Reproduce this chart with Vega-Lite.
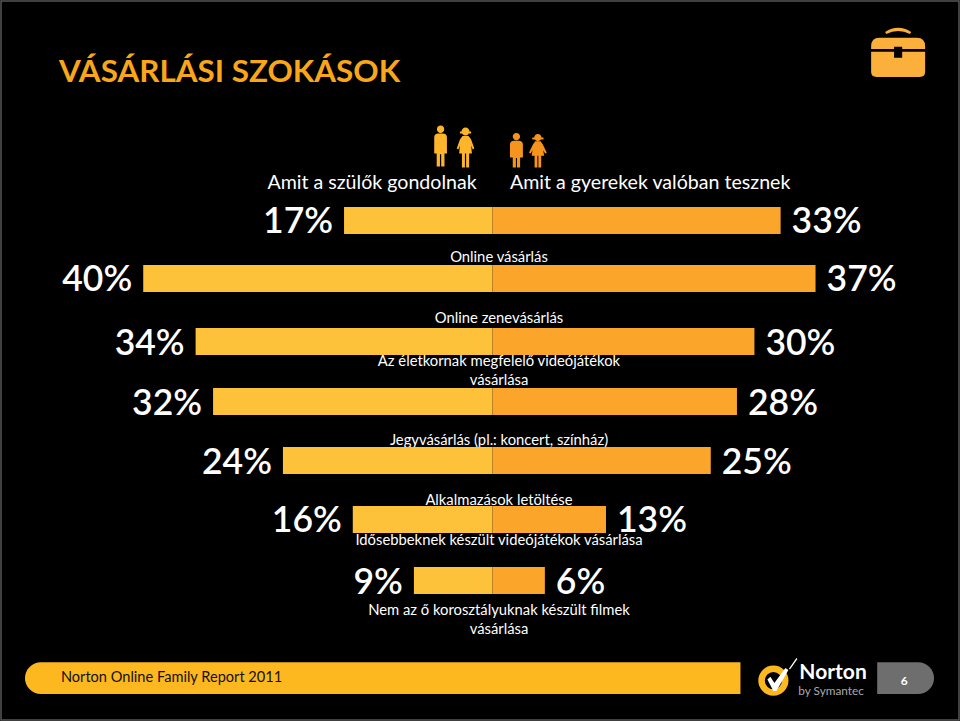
{
"$schema":"https://vega.github.io/schema/vega-lite/v6.json",
"width":960,"height":721,"padding":0,
"autosize":{"type":"fit","contains":"padding"},
"background":"#000000",
"config":{"view":{"stroke":null},"axis":{"disable":true},"legend":{"disable":true},"text":{"font":"Lato"}},
"datasets":{"bars":[
{"category":"Online vásárlás","rank":0,"group":"szülők","value":-17,"pct":"17%"},
{"category":"Online vásárlás","rank":0,"group":"gyerekek","value":33,"pct":"33%"},
{"category":"Online zenevásárlás","rank":1,"group":"szülők","value":-40,"pct":"40%"},
{"category":"Online zenevásárlás","rank":1,"group":"gyerekek","value":37,"pct":"37%"},
{"category":"Az életkornak megfelelő videójátékok\nvásárlása","rank":2,"group":"szülők","value":-34,"pct":"34%"},
{"category":"Az életkornak megfelelő videójátékok\nvásárlása","rank":2,"group":"gyerekek","value":30,"pct":"30%"},
{"category":"Jegyvásárlás (pl.: koncert, színház)","rank":3,"group":"szülők","value":-32,"pct":"32%"},
{"category":"Jegyvásárlás (pl.: koncert, színház)","rank":3,"group":"gyerekek","value":28,"pct":"28%"},
{"category":"Alkalmazások letöltése","rank":4,"group":"szülők","value":-24,"pct":"24%"},
{"category":"Alkalmazások letöltése","rank":4,"group":"gyerekek","value":25,"pct":"25%"},
{"category":"Idősebbeknek készült videójátékok vásárlása","rank":5,"group":"szülők","value":-16,"pct":"16%"},
{"category":"Idősebbeknek készült videójátékok vásárlása","rank":5,"group":"gyerekek","value":13,"pct":"13%"},
{"category":"Nem az ő korosztályuknak készült filmek\nvásárlása","rank":6,"group":"szülők","value":-9,"pct":"9%"},
{"category":"Nem az ő korosztályuknak készült filmek\nvásárlása","rank":6,"group":"gyerekek","value":6,"pct":"6%"}
]},
"resolve":{"scale":{"x":"independent","y":"independent"}},
"layer":[
{"data":{"name":"bars"},
 "encoding":{
  "x":{"field":"value","type":"quantitative","stack":null,"scale":{"domain":[-56.29,53.43],"nice":false,"zero":false}},
  "y":{"field":"category","type":"nominal","sort":["Online vásárlás","Online zenevásárlás","Az életkornak megfelelő videójátékok\nvásárlása","Jegyvásárlás (pl.: koncert, színház)","Alkalmazások letöltése","Idősebbeknek készült videójátékok vásárlása","Nem az ő korosztályuknak készült filmek\nvásárlása"],"scale":{"range":[189.5,609.5],"paddingInner":0.55,"paddingOuter":0.275}}
 },
 "layer":[
  {"transform":[{"filter":"datum.group==='szülők'"}],
   "mark":{"type":"text","lineBreak":"\n","lineHeight":19,"fontSize":14.8,"color":"#ffffff","align":"center","baseline":"middle","dx":6.5,"dy":{"expr":"[37.5,38.5,21.5,40.5,40.5,20.5,30.5][datum.rank]"}},
   "encoding":{"x":{"datum":0,"type":"quantitative"},"text":{"field":"category"}}},
  {"mark":{"type":"bar","yOffset":{"expr":"[0,-2,1,1,0,-1,0][datum.rank]"}},
   "encoding":{"x2":{"datum":0},"color":{"field":"group","type":"nominal","scale":{"domain":["szülők","gyerekek"],"range":["#fec23a","#fba52a"]}}}},
  {"transform":[{"filter":"datum.group==='szülők'"}],
   "mark":{"type":"text","fontSize":35.5,"fontWeight":600,"color":"#ffffff","align":"right","baseline":"middle","dx":-11,"dy":{"expr":"[1.5,-0.5,3.5,3.5,2.5,0.5,2.5][datum.rank]"}},
   "encoding":{"text":{"field":"pct"}}},
  {"transform":[{"filter":"datum.group==='gyerekek'"}],
   "mark":{"type":"text","fontSize":35.5,"fontWeight":600,"color":"#ffffff","align":"left","baseline":"middle","dx":11,"dy":{"expr":"[1.5,-0.5,3.5,3.5,2.5,0.5,2.5][datum.rank]"}},
   "encoding":{"text":{"field":"pct"}}}
 ]},
{"data":{"values":[{}]},
 "encoding":{
  "x":{"datum":0,"type":"quantitative","scale":{"domain":[0,960],"nice":false,"zero":false}},
  "y":{"datum":0,"type":"quantitative","scale":{"domain":[721,0],"nice":false,"zero":false}}
 },
 "layer":[
  {"mark":{"type":"rect","fill":null,"fillOpacity":0,"stroke":"#555555","strokeWidth":1.5},
   "encoding":{"x":{"datum":0,"type":"quantitative"},"x2":{"datum":960},"y":{"datum":0,"type":"quantitative"},"y2":{"datum":721}}},
  {"mark":{"type":"text","text":"VÁSÁRLÁSI SZOKÁSOK","fontSize":31.4,"fontWeight":"bold","color":"#f9a61a","align":"left","baseline":"middle"},
   "encoding":{"x":{"datum":58,"type":"quantitative"},"y":{"datum":72,"type":"quantitative"}}},
  {"mark":{"type":"text","text":"Amit a szülők gondolnak","fontSize":19.6,"color":"#ffffff","align":"left","baseline":"middle"},
   "encoding":{"x":{"datum":267,"type":"quantitative"},"y":{"datum":183,"type":"quantitative"}}},
  {"mark":{"type":"text","text":"Amit a gyerekek valóban tesznek","fontSize":19.6,"color":"#ffffff","align":"left","baseline":"middle"},
   "encoding":{"x":{"datum":510,"type":"quantitative"},"y":{"datum":183,"type":"quantitative"}}},
  {"mark":{"type":"point","shape":"M-0.1 -0.62H0.1Q0.31 -0.62 0.31 -0.42V0.36H0.19V1H0.03V0.4H-0.03V1H-0.19V0.36H-0.31V-0.42Q-0.31 -0.62 -0.1 -0.62ZM0 -1A0.18 0.18 0 1 1 0 -0.64A0.18 0.18 0 1 1 0 -1Z","size":1681,"filled":true,"color":"#fdb52c","opacity":1},
   "encoding":{"x":{"datum":440.5,"type":"quantitative"},"y":{"datum":145.5,"type":"quantitative"}}},
  {"mark":{"type":"point","shape":"M-0.15 -0.58H0.15L0.28 -0.4L0.44 0.05L0.36 0.1L0.28 -0.1L0.32 0.3H0.18V1H0.03V0.3H-0.03V1H-0.18V0.3H-0.32L-0.28 -0.1L-0.36 0.1L-0.44 0.05L-0.28 -0.4ZM0 -1A0.2 0.2 0 1 1 0 -0.6A0.2 0.2 0 1 1 0 -1ZM-0.28 -0.8H0.28V-0.7H-0.28Z","size":1600,"filled":true,"color":"#fdb52c","opacity":1},
   "encoding":{"x":{"datum":465.5,"type":"quantitative"},"y":{"datum":147,"type":"quantitative"}}},
  {"mark":{"type":"point","shape":"M-0.12 -0.54H0.12Q0.37 -0.54 0.37 -0.3V0.42H0.21V1H0.03V0.45H-0.03V1H-0.21V0.42H-0.37V-0.3Q-0.37 -0.54 -0.12 -0.54ZM0 -0.98A0.21 0.21 0 1 1 0 -0.56A0.21 0.21 0 1 1 0 -0.98Z","size":1225,"filled":true,"color":"#f7941d","opacity":1},
   "encoding":{"x":{"datum":516.5,"type":"quantitative"},"y":{"datum":149.5,"type":"quantitative"}}},
  {"mark":{"type":"point","shape":"M-0.16 -0.6H0.16L0.3 -0.4L0.54 0.1L0.44 0.15L0.32 -0.05L0.38 0.28H0.2V1H0.03V0.28H-0.03V1H-0.2V0.28H-0.38L-0.32 -0.05L-0.44 0.15L-0.54 0.1L-0.3 -0.4ZM0 -1.04A0.22 0.22 0 1 1 0 -0.6A0.22 0.22 0 1 1 0 -1.04ZM-0.34 -0.82H0.34V-0.7H-0.34Z","size":1089,"filled":true,"color":"#f7941d","opacity":1},
   "encoding":{"x":{"datum":538,"type":"quantitative"},"y":{"datum":150.5,"type":"quantitative"}}},
  {"mark":{"type":"point","shape":"M-1 -0.2Q-1 -0.52 -0.7 -0.52H0.7Q1 -0.52 1 -0.2V-0.11H0.15V-0.19H-0.15V-0.11H-1ZM-1 0H-0.15V0.22H0.15V0H1V0.75Q1 0.93 0.8 0.93H-0.8Q-1 0.93 -1 0.75ZM-0.48 -0.74Q0 -1.04 0.48 -0.74L0.44 -0.66Q0 -0.88 -0.44 -0.66Z","size":2916,"filled":true,"color":"#fbb03b","opacity":1},
   "encoding":{"x":{"datum":899,"type":"quantitative"},"y":{"datum":51,"type":"quantitative"}}},
  {"mark":{"type":"rect","fill":"#fdb71f","cornerRadiusTopLeft":16,"cornerRadiusBottomLeft":16},
   "encoding":{"x":{"datum":24,"type":"quantitative"},"x2":{"datum":741},"y":{"datum":663,"type":"quantitative"},"y2":{"datum":695}}},
  {"mark":{"type":"text","text":"Norton Online Family Report 2011","fontSize":14.6,"color":"#111111","align":"left","baseline":"middle"},
   "encoding":{"x":{"datum":60,"type":"quantitative"},"y":{"datum":679,"type":"quantitative"}}},
  {"mark":{"type":"point","shape":"circle","size":560,"filled":false,"strokeWidth":6.5,"color":"#fdb71f","opacity":1},
   "encoding":{"x":{"datum":774,"type":"quantitative"},"y":{"datum":681.5,"type":"quantitative"}}},
  {"mark":{"type":"point","shape":"M-0.5 0.12L-0.35 -0.02L-0.15 0.3L0.4 -0.45L0.55 -0.35L-0.05 0.7H-0.2ZM0.58 -0.42L0.95 -0.95L1 -0.9L0.63 -0.38Z","size":1600,"filled":true,"color":"#ffffff","opacity":1},
   "encoding":{"x":{"datum":778,"type":"quantitative"},"y":{"datum":678,"type":"quantitative"}}},
  {"mark":{"type":"text","text":"Norton","fontSize":21,"fontWeight":"bold","color":"#ffffff","align":"left","baseline":"middle"},
   "encoding":{"x":{"datum":800,"type":"quantitative"},"y":{"datum":674,"type":"quantitative"}}},
  {"mark":{"type":"text","text":"by Symantec","fontSize":11.8,"color":"#aaaaaa","align":"left","baseline":"middle"},
   "encoding":{"x":{"datum":799,"type":"quantitative"},"y":{"datum":692,"type":"quantitative"}}},
  {"mark":{"type":"rect","fill":"#6e6e6e","cornerRadiusTopRight":16,"cornerRadiusBottomRight":16},
   "encoding":{"x":{"datum":878,"type":"quantitative"},"x2":{"datum":935},"y":{"datum":663,"type":"quantitative"},"y2":{"datum":695}}},
  {"mark":{"type":"text","text":"6","fontSize":12,"fontWeight":"bold","color":"#ffffff","align":"center","baseline":"middle"},
   "encoding":{"x":{"datum":905,"type":"quantitative"},"y":{"datum":682,"type":"quantitative"}}}
 ]}
]}
